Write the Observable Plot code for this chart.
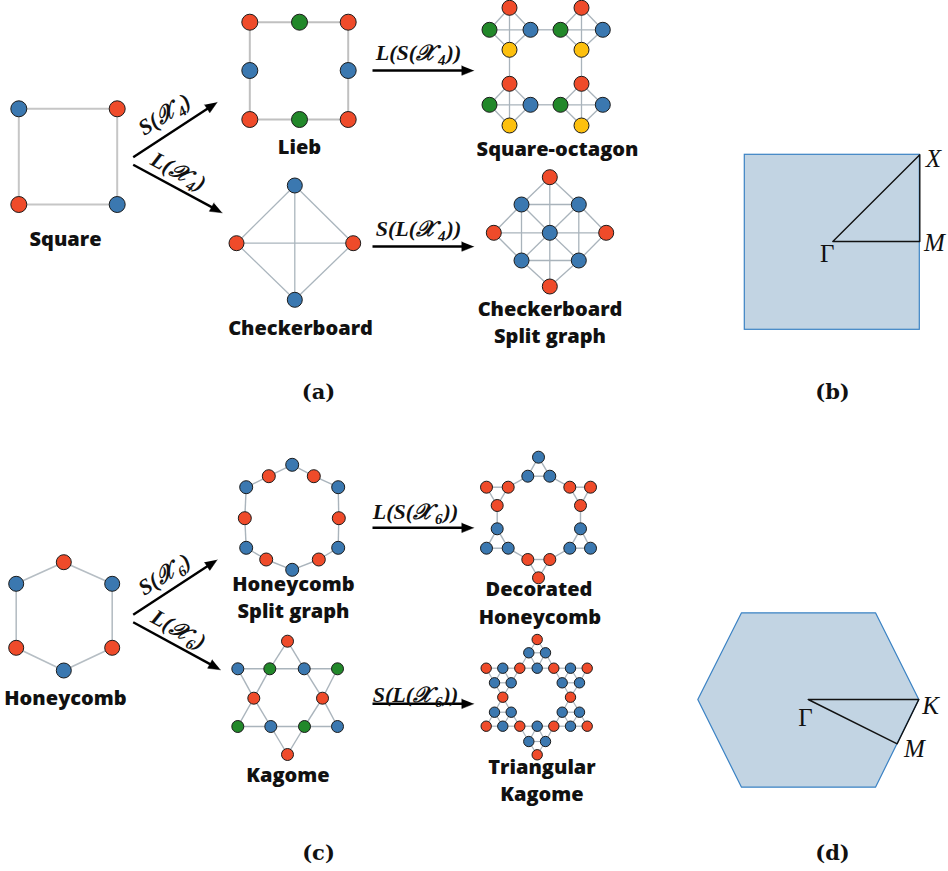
<!DOCTYPE html>
<html><head><meta charset="utf-8">
<script src="https://cdn.jsdelivr.net/npm/d3@7"></script>
<script src="https://cdn.jsdelivr.net/npm/@observablehq/plot@0.6"></script>
<style>body{margin:0;background:#fff}</style>
</head><body><div id="chart"></div>
<script>
// Node colour classes
const palette = {r: "#ef4b2a", b: "#3b78b0", g: "#22882a", y: "#fdc00e"};

// ---- (a) square-lattice family: nodes [x, y, class], edges [i, j]
const squareNodes = [[18.3,108.3,"b"],[116.7,108.3,"r"],[116.7,204,"b"],[18.3,204,"r"]];
const squareEdges = [[0,1],[1,2],[2,3],[3,0]];

const liebNodes = [[249.3,21.7,"r"],[299,21.7,"g"],[347.7,21.7,"r"],[347.7,70,"b"],
  [347.7,119,"r"],[299,119,"g"],[249.3,119,"r"],[249.3,70,"b"]];
const liebEdges = [[0,1],[1,2],[2,3],[3,4],[4,5],[5,6],[6,7],[7,0]];

const checkerNodes = [[294.3,185,"b"],[352.7,242.7,"r"],[294.3,299.3,"b"],[236,242.7,"r"]];
const checkerEdges = [[0,1],[1,2],[2,3],[3,0],[0,2],[1,3]];

const octagonNodes = [
  [509,7.3,"r"],[489,29.3,"g"],[530,29.3,"b"],[509,49.3,"y"],
  [581,7.3,"r"],[560,29.3,"g"],[602.3,29.3,"b"],[581,49.3,"y"],
  [509,83.3,"r"],[489,104.3,"g"],[530,104.3,"b"],[509,125,"y"],
  [581,83.3,"r"],[560,104.3,"g"],[602.3,104.3,"b"],[581,125,"y"]];
const octagonEdges = [
  [0,1],[0,2],[1,3],[2,3],[0,3],[1,2],
  [4,5],[4,6],[5,7],[6,7],[4,7],[5,6],
  [8,9],[8,10],[9,11],[10,11],[8,11],[9,10],
  [12,13],[12,14],[13,15],[14,15],[12,15],[13,14],
  [2,5],[3,8],[7,12],[10,13]];

const checkerSplitNodes = [[549.3,176.7,"r"],[521,204,"b"],[578.3,204,"b"],[493.3,232.3,"r"],
  [549.3,232.3,"b"],[605.7,232.3,"r"],[521,260,"b"],[578.3,260,"b"],[549.3,286,"r"]];
const checkerSplitEdges = [[0,1],[1,3],[3,6],[6,8],[8,7],[7,5],[5,2],[2,0],
  [1,2],[6,7],[1,6],[2,7],[3,4],[4,5],[0,4],[4,8],[1,4],[2,4],[6,4],[7,4]];

// ---- (c) honeycomb family
const honeyNodes = [[63.3,561.7,"r"],[111.7,583.3,"b"],[111.7,647.3,"r"],[63.3,670,"b"],[15.7,647.3,"r"],[15.7,583.3,"b"]];
const honeyEdges = [[0,1],[1,2],[2,3],[3,4],[4,5],[5,0]];

const honeySplitNodes = [[291.7,464.3,"b"],[313.3,475.7,"r"],[337.7,486.7,"b"],[338.3,517.7,"r"],
  [337.7,547.3,"b"],[318.3,559,"r"],[291.7,569.3,"b"],[265.7,559,"r"],[245.7,547.3,"b"],
  [244.3,517.7,"r"],[245.7,486.7,"b"],[268.3,475.7,"r"]];
const honeySplitEdges = [[0,1],[1,2],[2,3],[3,4],[4,5],[5,6],[6,7],[7,8],[8,9],[9,10],[10,11],[11,0]];

const kagomeNodes = [[287,640.7,"r"],
  [237.3,668.3,"b"],[269.3,668.3,"g"],[303.7,668.3,"b"],[337,668.3,"g"],
  [253.3,697.7,"r"],[322,697.7,"r"],
  [237.3,726,"g"],[270.3,726,"b"],[304,726,"g"],[337,726,"b"],
  [287,754,"r"]];
const kagomeEdges = [[0,2],[0,3],[1,2],[2,3],[3,4],[1,5],[2,5],[3,6],[4,6],
  [5,7],[5,8],[6,9],[6,10],[7,8],[8,9],[9,10],[8,11],[9,11]];

const decoratedNodes = [[538,456.7,"b"],[527.3,475.7,"b"],[549.3,475.7,"b"],
  [486,486.7,"r"],[507.7,486.7,"r"],[496.7,505,"r"],
  [569.3,486.7,"r"],[590,486.7,"r"],[580,505,"r"],
  [496.7,528.3,"b"],[486,547.7,"b"],[507.7,547.7,"b"],
  [580,528.3,"b"],[569.3,547.7,"b"],[590,547.7,"b"],
  [527.3,559,"r"],[549.3,559,"r"],[538,577.3,"r"]];
const decoratedEdges = [[0,1],[0,2],[1,2],[3,4],[3,5],[4,5],[6,7],[6,8],[7,8],
  [9,10],[9,11],[10,11],[12,13],[12,14],[13,14],[15,16],[15,17],[16,17],
  [1,4],[2,6],[5,9],[8,12],[11,15],[13,16]];

const triKagomeNodes = [[536.7,639,"r"],
  [528.3,652.3,"b"],[545,652.3,"b"],
  [485.7,667.7,"r"],[502.3,667.7,"b"],[519.3,667.7,"r"],[536.7,667.7,"b"],[553.3,667.7,"r"],[570,667.7,"b"],[586.7,667.7,"r"],
  [494,682.3,"b"],[510.7,682.3,"b"],[561.7,682.3,"b"],[579,682.3,"b"],
  [502.3,696.7,"r"],[570,696.7,"r"],
  [494,711.7,"b"],[510.7,711.7,"b"],[561.7,711.7,"b"],[579,711.7,"b"],
  [485.7,725.7,"r"],[502.3,725.7,"b"],[519.3,725.7,"r"],[536.7,725.7,"b"],[553.3,725.7,"r"],[570,725.7,"b"],[586.7,725.7,"r"],
  [528.3,741,"b"],[545,741,"b"],
  [536.7,754.3,"r"]];
// bonds of the triangular kagome join nearest neighbours (one lattice step)
const triKagomeStep = 22;
const triKagomeEdges = [];
triKagomeNodes.forEach((a, i) => triKagomeNodes.forEach((b, j) => {
  if (j > i && Math.hypot(a[0]-b[0], a[1]-b[1]) < triKagomeStep) triKagomeEdges.push([i, j]);
}));

// ---- transformation arrows [x1, y1, x2, y2] and their labels
const arrows = [[132.7,156.7,216.7,101.7],[132.7,164.3,221.7,212.3],[372,70,473.3,70],[372,246,473.3,246],
  [132.7,614.3,216.7,559.3],[132.7,621.7,220,669.3],[372,527.3,473.3,527.3],[372,703.3,473.3,703.3]];
const mapLabels = ["S(𝒳₄)","L(𝒳₄)","L(S(𝒳₄))","S(L(𝒳₄))","S(𝒳₆)","L(𝒳₆)","L(S(𝒳₆))","S(L(𝒳₆))"];
const mapLabelPos = [[164,114,-33],[178,171,28],[418,52,0],[418,228,0],
  [164,574,-33],[178,629,29],[415,511,0],[415,694,0]];

// ---- lattice names
const names = ["Square","Lieb","Checkerboard","Square-octagon","Checkerboard","Split graph",
  "Honeycomb","Honeycomb","Split graph","Kagome","Decorated","Honeycomb","Triangular","Kagome"];
const namePos = [[65,239],[299,147],[300,328],[557,149],[549.5,309],[549.5,336],
  [65,698],[293,584],[293,611],[287.5,775],[538.5,589],[539.5,617],[541.5,767],[541.5,794]];

// ---- panel tags
const panels = ["(a)","(b)","(c)","(d)"];
const panelPos = [[318,392],[832,392],[318,853],[832,853]];

// ---- Brillouin zones
const squareZone = [[744.3,154.3,919.3,329.3]];
const squarePath = [[832.3,241],[919.3,154.3],[919.3,241],[832.3,241]];
const hexZone = [[741,612.3],[875,612.3],[918.3,699],[875,786.7],[741,786.7],[697.3,699],[741,612.3]];
const hexPath = [[807.7,699],[918.3,699],[896.7,743.3],[807.7,699]];
const symPoints = ["X","M","Γ","K","M","Γ"];
const symPos = [[933,158],[934,242],[826.7,253],[930,705],[914,748],[805,717]];

// ---- build marks
function edgeRows(nodes, edges) {
  return edges.map(([i, j]) => ({x1: nodes[i][0], y1: nodes[i][1], x2: nodes[j][0], y2: nodes[j][1]}));
}
const graphs = [
  {nodes: squareNodes, edges: squareEdges, r: 8, stroke: "#c6c6c6", sw: 2},
  {nodes: liebNodes, edges: liebEdges, r: 8, stroke: "#c0c0c0", sw: 2},
  {nodes: checkerNodes, edges: checkerEdges, r: 7.5, stroke: "#aab5bd", sw: 1.3},
  {nodes: octagonNodes, edges: octagonEdges, r: 7.5, stroke: "#a9b3bb", sw: 1.3},
  {nodes: checkerSplitNodes, edges: checkerSplitEdges, r: 7.5, stroke: "#a9b3bb", sw: 1.3},
  {nodes: honeyNodes, edges: honeyEdges, r: 7.5, stroke: "#b6bec4", sw: 1.6},
  {nodes: honeySplitNodes, edges: honeySplitEdges, r: 6.5, stroke: "#aab4bc", sw: 1.4},
  {nodes: kagomeNodes, edges: kagomeEdges, r: 6, stroke: "#aab4bc", sw: 1.4},
  {nodes: decoratedNodes, edges: decoratedEdges, r: 6, stroke: "#aab4bc", sw: 1.4},
  {nodes: triKagomeNodes, edges: triKagomeEdges, r: 5.2, stroke: "#aab4bc", sw: 1.2}
];

const headLen = 12, headHalf = 4.8;
const shafts = [], heads = [];
arrows.forEach(([x1, y1, x2, y2], k) => {
  const len = Math.hypot(x2 - x1, y2 - y1), ux = (x2 - x1) / len, uy = (y2 - y1) / len;
  shafts.push({x1, y1, x2: x2 - ux * headLen * 0.6, y2: y2 - uy * headLen * 0.6});
  const bx = x2 - ux * headLen, by = y2 - uy * headLen;
  heads.push({k, x: x2, y: y2}, {k, x: bx - uy * headHalf, y: by + ux * headHalf}, {k, x: bx + uy * headHalf, y: by - ux * headHalf});
});

const marks = [
  // Brillouin zones
  Plot.rect(squareZone, {x1: d => d[0], y1: d => d[1], x2: d => d[2], y2: d => d[3], fill: "#c2d4e3", stroke: "#3a82c4", strokeWidth: 1.2}),
  Plot.line(hexZone, {x: d => d[0], y: d => d[1], fill: "#c2d4e3", stroke: "#3a82c4", strokeWidth: 1.2}),
  Plot.line(squarePath, {x: d => d[0], y: d => d[1], stroke: "#111", strokeWidth: 1.4}),
  Plot.line(hexPath, {x: d => d[0], y: d => d[1], stroke: "#111", strokeWidth: 1.4}),
  Plot.text(symPoints, {x: (d, i) => symPos[i][0], y: (d, i) => symPos[i][1], text: d => d,
    fontFamily: "Liberation Serif", fontSize: 25, fill: "#111"})
];
graphs.forEach(g => {
  marks.push(Plot.link(edgeRows(g.nodes, g.edges), {x1: "x1", y1: "y1", x2: "x2", y2: "y2", stroke: g.stroke, strokeWidth: g.sw}));
});
graphs.forEach(g => {
  marks.push(Plot.dot(g.nodes, {x: d => d[0], y: d => d[1], r: g.r, fill: d => palette[d[2]], stroke: "#1b1b1b", strokeWidth: 1}));
});
marks.push(
  Plot.link(shafts, {x1: "x1", y1: "y1", x2: "x2", y2: "y2", stroke: "#000", strokeWidth: 2.4}),
  Plot.line(heads, {x: "x", y: "y", z: "k", fill: "#000", stroke: "#000", strokeWidth: 0.5}),
  Plot.text(mapLabels, {x: (d, i) => mapLabelPos[i][0], y: (d, i) => mapLabelPos[i][1], rotate: (d, i) => mapLabelPos[i][2],
    text: d => d, fontFamily: "Liberation Serif", fontStyle: "italic", fontWeight: "bold", fontSize: 22, fill: "#111"}),
  Plot.text(names, {x: (d, i) => namePos[i][0], y: (d, i) => namePos[i][1], text: d => d,
    fontFamily: "Open Sans", fontWeight: 800, fontSize: 20, fill: "#111"}),
  Plot.text(panels, {x: (d, i) => panelPos[i][0], y: (d, i) => panelPos[i][1], text: d => d,
    fontFamily: "DejaVu Serif", fontWeight: "bold", fontSize: 21, fill: "#111"})
);

const chart = Plot.plot({
  width: 948, height: 871,
  margin: 0,
  x: {type: "identity", axis: null},
  y: {type: "identity", axis: null},
  color: {type: "identity"},
  style: {background: "#fff", overflow: "visible"},
  marks
});
const svgNS = "http://www.w3.org/2000/svg";
chart.querySelectorAll("text").forEach(t => {
  const s = t.textContent;
  // italic for the symmetry-point letters other than Γ
  if (["X", "M", "K"].includes(s)) t.setAttribute("font-style", "italic");
  // lattice index as a true subscript
  const m = s.match(/^(.*)([₄₆])(.*)$/);
  if (!m) return;
  t.textContent = "";
  const head = document.createElementNS(svgNS, "tspan");
  head.textContent = m[1];
  const sub = document.createElementNS(svgNS, "tspan");
  sub.textContent = m[2] === "₄" ? "4" : "6";
  sub.setAttribute("font-size", "15");
  sub.setAttribute("dx", "3");
  sub.setAttribute("dy", "5");
  const tail = document.createElementNS(svgNS, "tspan");
  tail.textContent = m[3];
  tail.setAttribute("dx", "1");
  tail.setAttribute("dy", "-5");
  t.append(head, sub, tail);
});
document.getElementById("chart").append(chart);
</script></body></html>
